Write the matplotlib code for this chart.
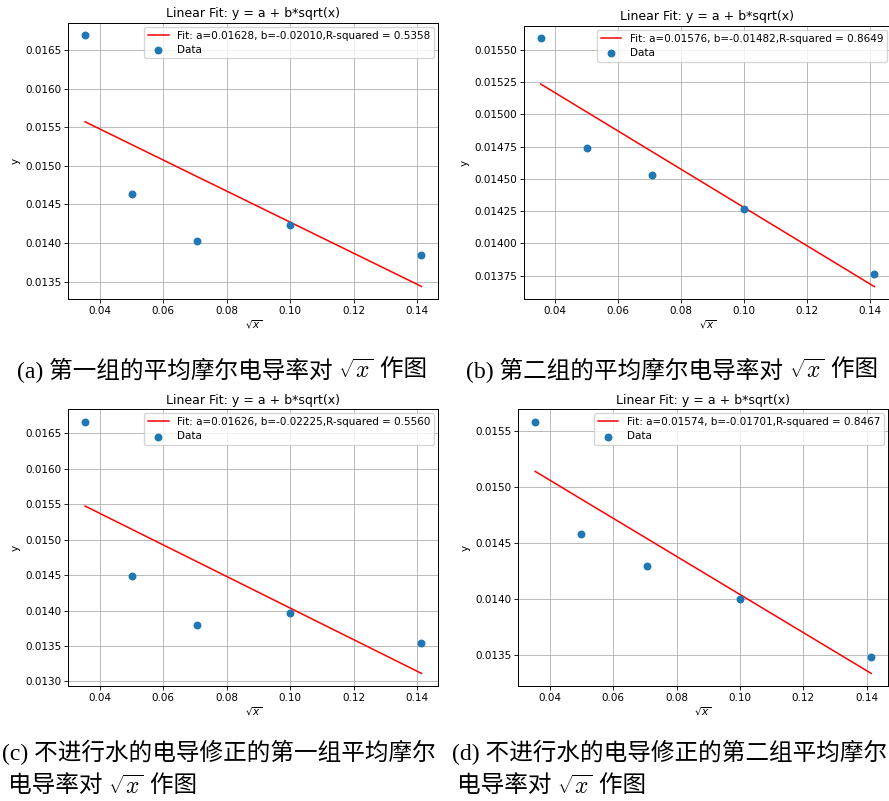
import numpy as np
import matplotlib
matplotlib.use("Agg")
import matplotlib.pyplot as plt

# ---- data ----
sqrt_x = [0.03536, 0.05, 0.07071, 0.1, 0.14142]
y_a = [0.01669, 0.01464, 0.01403, 0.01423, 0.01384]
y_b = [0.01559, 0.01474, 0.01453, 0.01427, 0.01376]
y_c = [0.01666, 0.01448, 0.01380, 0.01396, 0.01354]
y_d = [0.01558, 0.01458, 0.01429, 0.01400, 0.01348]
fit_a = [0.01628, 0.01576, 0.01626, 0.01574]
fit_b = [-0.02010, -0.01482, -0.02225, -0.01701]
r_squared = [0.5358, 0.8649, 0.5560, 0.8467]
# caption lines: list of pieces (text, is_math)
captions = [
    [[("(a) 第一组的平均摩尔电导率对 ", False), ("$\\sqrt{x}$", True), (" 作图", False)]],
    [[("(b) 第二组的平均摩尔电导率对 ", False), ("$\\sqrt{x}$", True), (" 作图", False)]],
    [[("(c) 不进行水的电导修正的第一组平均摩尔", False)],
     [("电导率对 ", False), ("$\\sqrt{x}$", True), (" 作图", False)]],
    [[("(d) 不进行水的电导修正的第二组平均摩尔", False)],
     [("电导率对 ", False), ("$\\sqrt{x}$", True), (" 作图", False)]],
]

plt.rcParams["mathtext.fontset"] = "dejavusans"

W, H = 889, 801
fig = plt.figure(figsize=(W / 100, H / 100), dpi=100)

# axes boxes in pixels: left, right, top, bottom
boxes = [
    (68.3, 438.3, 22.7, 299),
    (524, 891, 26, 299),
    (68.3, 438.3, 409.3, 686),
    (518.3, 888, 409.3, 686),
]
ys = [y_a, y_b, y_c, y_d]
ytick_fmt = ["%.4f", "%.5f", "%.4f", "%.4f"]

fs = 7.5
for i, (l, r, t, b) in enumerate(boxes):
    ax = fig.add_axes([l / W, 1 - b / H, (r - l) / W, (b - t) / H])
    xs = np.array(sqrt_x)
    ax.plot(xs, fit_a[i] + fit_b[i] * xs, color="red", lw=1.1,
            label=f"Fit: a={fit_a[i]:.5f}, b={fit_b[i]:.5f},R-squared = {r_squared[i]:.4f}")
    ax.scatter(xs, ys[i], s=22, color="#1f77b4", label="Data", zorder=3)
    ax.grid(True, color="#b0b0b0", lw=0.6)
    ax.set_axisbelow(True)
    ax.set_title("Linear Fit: y = a + b*sqrt(x)", fontsize=9, pad=4)
    ax.set_xlabel("$\\sqrt{x}$", fontsize=fs, labelpad=2)
    ax.set_ylabel("y", fontsize=fs, labelpad=3)
    ax.tick_params(labelsize=fs, length=2.6, width=0.6, pad=2.5)
    for sp in ax.spines.values():
        sp.set_linewidth(0.7)
    ax.yaxis.set_major_formatter(matplotlib.ticker.FormatStrFormatter(ytick_fmt[i]))
    ax.legend(loc="upper right", fontsize=fs, borderaxespad=0.4, handlelength=2,
              framealpha=0.8, borderpad=0.35, labelspacing=0.4)

cap_family = ["Liberation Serif", "Noto Sans CJK SC"]
cap_pos = [
    [(17, 370)],
    [(466, 370)],
    [(2, 752), (8, 786)],
    [(452, 752), (457, 786)],
]
cap_fs = [17, 17, 17, 17]
fig.canvas.draw()
renderer = fig.canvas.get_renderer()
for lines, poss, cfs in zip(captions, cap_pos, cap_fs):
    for pieces, (x, y) in zip(lines, poss):
        cx = x
        for txt, is_math in pieces:
            if is_math:
                t = fig.text(cx / W, 1 - (y + 1) / H, txt, ha="left", va="center",
                             fontsize=cfs, math_fontfamily="cm")
            else:
                t = fig.text(cx / W, 1 - y / H, txt, ha="left", va="center",
                             fontsize=cfs, family=cap_family)
            bb = t.get_window_extent(renderer)
            cx += bb.width

fig.savefig("out.png", dpi=100)
